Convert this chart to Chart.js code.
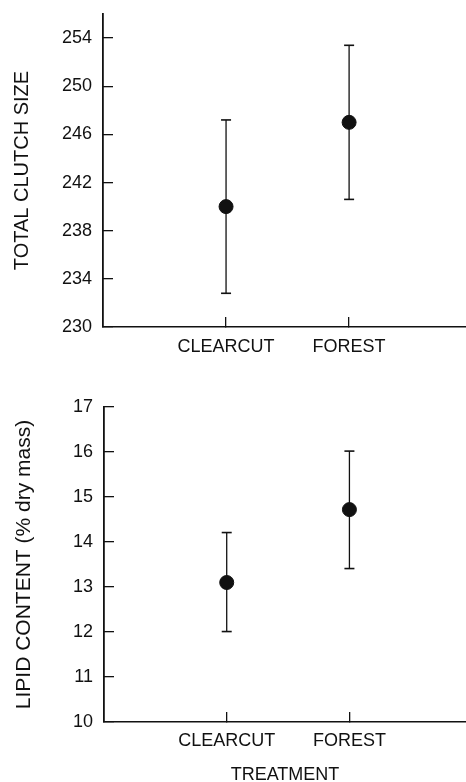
<!DOCTYPE html>
<html>
<head>
<meta charset="utf-8">
<script src="https://cdn.jsdelivr.net/npm/chart.js@4.4.1/dist/chart.umd.min.js"></script>
<style>
  html, body { margin: 0; padding: 0; background: #fff; overflow: hidden; }
  body { width: 466px; height: 782px; position: relative; }
  .panel { position: absolute; left: 0; width: 466px; }
</style>
</head>
<body>
<div class="panel" style="top:0;height:391px"><canvas id="clutchChart"></canvas></div>
<div class="panel" style="top:391px;height:400px"><canvas id="lipidChart"></canvas></div>
<script>
// data
const categories = ["CLEARCUT", "FOREST"];

const clutchMean = [240.0, 247.0];
const clutchLow = [232.8, 240.6];
const clutchHigh = [247.2, 253.4];

const lipidMean = [13.1, 14.72];
const lipidLow = [12.01, 13.41];
const lipidHigh = [14.21, 16.02];

const clutchTicks = { min: 230, max: 256, step: 2, labelEvery: 4 };
const lipidTicks = { min: 10, max: 17, step: 1, labelEvery: 1 };

const FONT = "'Liberation Sans', Arial, Helvetica, sans-serif";
const INK = "#111";

function errorBarSets(low, high) {
    return categories.map((c, i) => ({
        type: "line",
        data: [{ x: i + 1, y: low[i] }, { x: i + 1, y: high[i] }],
        borderColor: INK,
        borderWidth: 1.3,
        pointStyle: "line",
        pointRadius: 5,
        pointBorderWidth: 1.6,
        pointBorderColor: INK,
        order: 2
    }));
}

// keep the axis box where the figure has it
function noPadding(s) {
    s.paddingTop = 0;
    s.paddingBottom = 0;
    s.paddingLeft = 0;
    s.paddingRight = 0;
}

function makeChart(id, mean, low, high, tickDef, opts) {
    const ctx = document.getElementById(id);

    const meanSet = {
        type: "scatter",
        data: categories.map((c, i) => ({ x: i + 1, y: mean[i] })),
        backgroundColor: INK,
        borderColor: INK,
        pointRadius: 7,
        order: 1
    };

    return new Chart(ctx, {
        type: "scatter",
        data: { datasets: [meanSet, ...errorBarSets(low, high)] },
        options: {
            responsive: true,
            maintainAspectRatio: false,
            animation: false,
            layout: { autoPadding: false, padding: { top: opts.padTop, right: 0, left: 0, bottom: 0 } },
            plugins: { legend: { display: false }, tooltip: { enabled: false } },
            scales: {
                x: {
                    type: "linear",
                    min: 0,
                    max: 2.95,
                    afterBuildTicks: s => { s.ticks = categories.map((c, i) => ({ value: i + 1 })); },
                    afterFit: s => { s.height = opts.xHeight; noPadding(s); },
                    grid: {
                        drawOnChartArea: false,
                        drawTicks: true,
                        tickLength: -10,
                        color: INK,
                        lineWidth: 1.3
                    },
                    border: { display: true, color: INK, width: 1.6 },
                    ticks: {
                        padding: 10 + opts.xPad,
                        color: INK,
                        font: { family: FONT, size: 18 },
                        callback: v => categories[v - 1] || ""
                    },
                    title: {
                        display: !!opts.xTitle,
                        text: opts.xTitle || "",
                        color: INK,
                        font: { family: FONT, size: 18 },
                        padding: { top: 0, bottom: 5 }
                    }
                },
                y: {
                    min: tickDef.min,
                    max: tickDef.max,
                    afterFit: s => { s.width = opts.yWidth; noPadding(s); },
                    grid: {
                        drawOnChartArea: false,
                        drawTicks: true,
                        tickLength: -10,
                        color: INK,
                        lineWidth: 1.3
                    },
                    border: { display: true, color: INK, width: 1.8 },
                    ticks: {
                        stepSize: tickDef.step,
                        padding: 21,
                        color: INK,
                        font: { family: FONT, size: 18 },
                        callback: v => ((v - tickDef.min) % tickDef.labelEvery === 0 ? String(v) : "")
                    },
                    title: {
                        display: true,
                        text: opts.yTitle,
                        color: INK,
                        font: { family: FONT, size: opts.yTitleSize },
                        padding: { top: opts.yTitlePad, bottom: 0 }
                    }
                }
            }
        }
    });
}

makeChart("clutchChart", clutchMean, clutchLow, clutchHigh, clutchTicks, {
    padTop: 14, xHeight: 64, xPad: 9, yWidth: 103, yTitlePad: 10, yTitleSize: 20,
    yTitle: "TOTAL CLUTCH SIZE"
});

makeChart("lipidChart", lipidMean, lipidLow, lipidHigh, lipidTicks, {
    padTop: 16, xHeight: 69, xPad: 8, yWidth: 104, yTitlePad: 12, yTitleSize: 21,
    yTitle: "LIPID CONTENT (% dry mass)", xTitle: "TREATMENT"
});
</script>
</body>
</html>
